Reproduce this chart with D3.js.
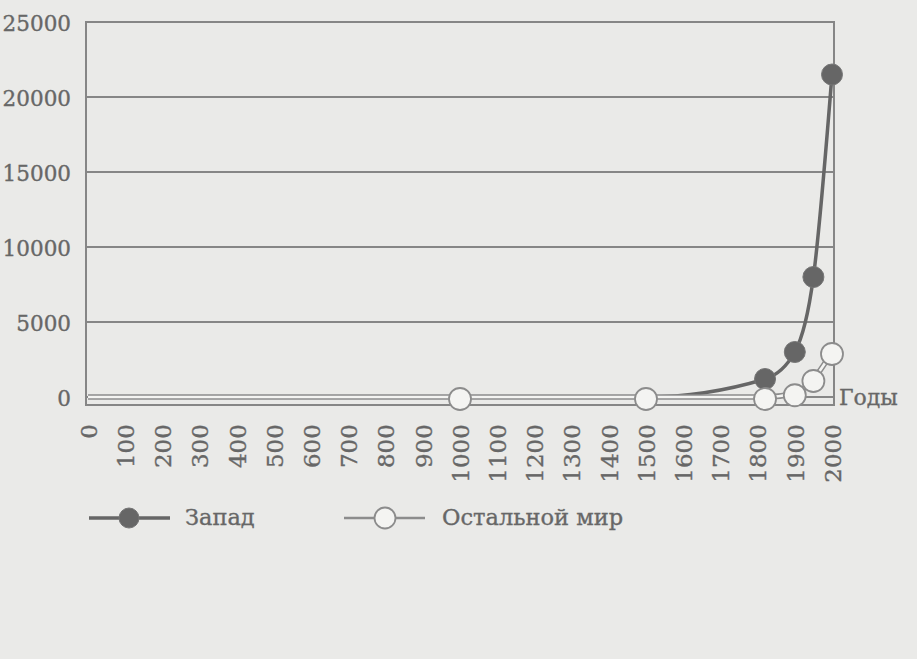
<!DOCTYPE html>
<html>
<head>
<meta charset="utf-8">
<script src="https://cdn.jsdelivr.net/npm/d3@7"></script>
<style>
  html, body { margin: 0; padding: 0; background: #eaeae8; }
  svg { display: block; }
  text { font-family: "DejaVu Serif", "Liberation Serif", serif; }
</style>
</head>
<body>
<svg id="chart" width="917" height="659"></svg>
<script>
// ---- data ----
const years = [0, 1000, 1500, 1820, 1900, 1950, 2000];
const westValues = [0, 0, 0, 1200, 3000, 8000, 21500];
const restValues = [0, 0, 0, 0, 250, 1200, 3000];
const xTickLabels = ["0","100","200","300","400","500","600","700","800","900","1000",
  "1100","1200","1300","1400","1500","1600","1700","1800","1900","2000"];
const yTickLabels = ["0","5000","10000","15000","20000","25000"];
const seriesNames = ["Запад", "Остальной мир"];
const axisTitle = "Годы";

// ---- layout ----
const svg = d3.select("#chart");
const box = { left: 86, right: 834, top: 22, bottom: 405 };
const x = d3.scaleLinear().domain([0, 2000]).range([88, 832]);
const y = d3.scaleLinear().domain([0, 25000]).range([397, 22]);

const textColor = "#676767";
const gridColor = "#868686";
const westColor = "#666666";
const restStroke = "#8c8c8c";
const restFill = "#f4f4f2";

function styleText(sel, size) {
  sel.style("font-size", size + "px")
    .style("font-family", "DejaVu Serif, serif")
    .attr("fill", textColor)
    .attr("stroke", textColor).attr("stroke-width", 0.35);
}

// gridlines
svg.append("g").selectAll("line")
  .data(yTickLabels.map(Number))
  .join("line")
  .attr("x1", box.left).attr("x2", box.right)
  .attr("y1", d => y(d)).attr("y2", d => y(d))
  .attr("stroke", gridColor).attr("stroke-width", 2);

// box
svg.append("rect")
  .attr("x", box.left).attr("y", box.top)
  .attr("width", box.right - box.left).attr("height", box.bottom - box.top)
  .attr("fill", "none").attr("stroke", gridColor).attr("stroke-width", 2);

// y axis labels
const yAxis = d3.axisLeft(y).tickValues(yTickLabels.map(Number))
  .tickFormat((d, i) => yTickLabels[i]).tickSize(0).tickPadding(0);
const gy = svg.append("g").attr("transform", "translate(71,2)").call(yAxis);
gy.select(".domain").remove();
styleText(gy.selectAll("text"), 21.5);

// x axis labels (rotated)
const xAxis = d3.axisBottom(x).tickValues(xTickLabels.map(Number))
  .tickFormat((d, i) => xTickLabels[i]).tickSize(0);
const gx = svg.append("g").attr("transform", "translate(0,423)").call(xAxis);
gx.select(".domain").remove();
gx.selectAll("text")
  .attr("transform", "rotate(-90)")
  .attr("x", 0).attr("y", 0).attr("dx", "-0.05em").attr("dy", "0.36em")
  .style("text-anchor", "end");
styleText(gx.selectAll("text"), 23);

// lines
const westData = years.map((yr, i) => ({ yr, v: westValues[i] }));
const restData = years.map((yr, i) => ({ yr, v: restValues[i] }));
const line = d3.line().x(d => x(d.yr)).y(d => y(d.v)).curve(d3.curveMonotoneX);

svg.append("path").datum(westData).attr("d", line)
  .attr("fill", "none").attr("stroke", westColor).attr("stroke-width", 3.5);

svg.append("g").selectAll("circle")
  .data(westData.filter(d => d.v > 0))
  .join("circle")
  .attr("cx", d => x(d.yr)).attr("cy", d => y(d.v)).attr("r", 10.5)
  .attr("fill", westColor).attr("stroke", "#767676").attr("stroke-width", 1);

svg.append("path").datum(restData).attr("d", line)
  .attr("fill", "none").attr("stroke", restStroke).attr("stroke-width", 5.5);
svg.append("path").datum(restData).attr("d", line)
  .attr("fill", "none").attr("stroke", restFill).attr("stroke-width", 2.5);

svg.append("g").selectAll("circle")
  .data(restData.filter(d => d.yr >= 1000))
  .join("circle")
  .attr("cx", d => x(d.yr)).attr("cy", d => y(d.v) + 2).attr("r", 11)
  .attr("fill", restFill).attr("stroke", restStroke).attr("stroke-width", 1.8);

// axis title
styleText(svg.append("text").attr("x", 839).attr("y", 405).text(axisTitle), 22);

// legend
const legend = svg.append("g");
legend.append("line").attr("x1", 89).attr("x2", 170).attr("y1", 518).attr("y2", 518)
  .attr("stroke", westColor).attr("stroke-width", 3.5);
legend.append("circle").attr("cx", 129).attr("cy", 518).attr("r", 10)
  .attr("fill", westColor).attr("stroke", "#767676");
styleText(legend.append("text").attr("x", 185).attr("y", 525).text(seriesNames[0]), 22.5);

legend.append("line").attr("x1", 344).attr("x2", 425).attr("y1", 518).attr("y2", 518)
  .attr("stroke", restStroke).attr("stroke-width", 2.5);
legend.append("circle").attr("cx", 385).attr("cy", 518).attr("r", 10.5)
  .attr("fill", restFill).attr("stroke", restStroke).attr("stroke-width", 1.8);
styleText(legend.append("text").attr("x", 442).attr("y", 525).text(seriesNames[1]), 22.5);
</script>
</body>
</html>
